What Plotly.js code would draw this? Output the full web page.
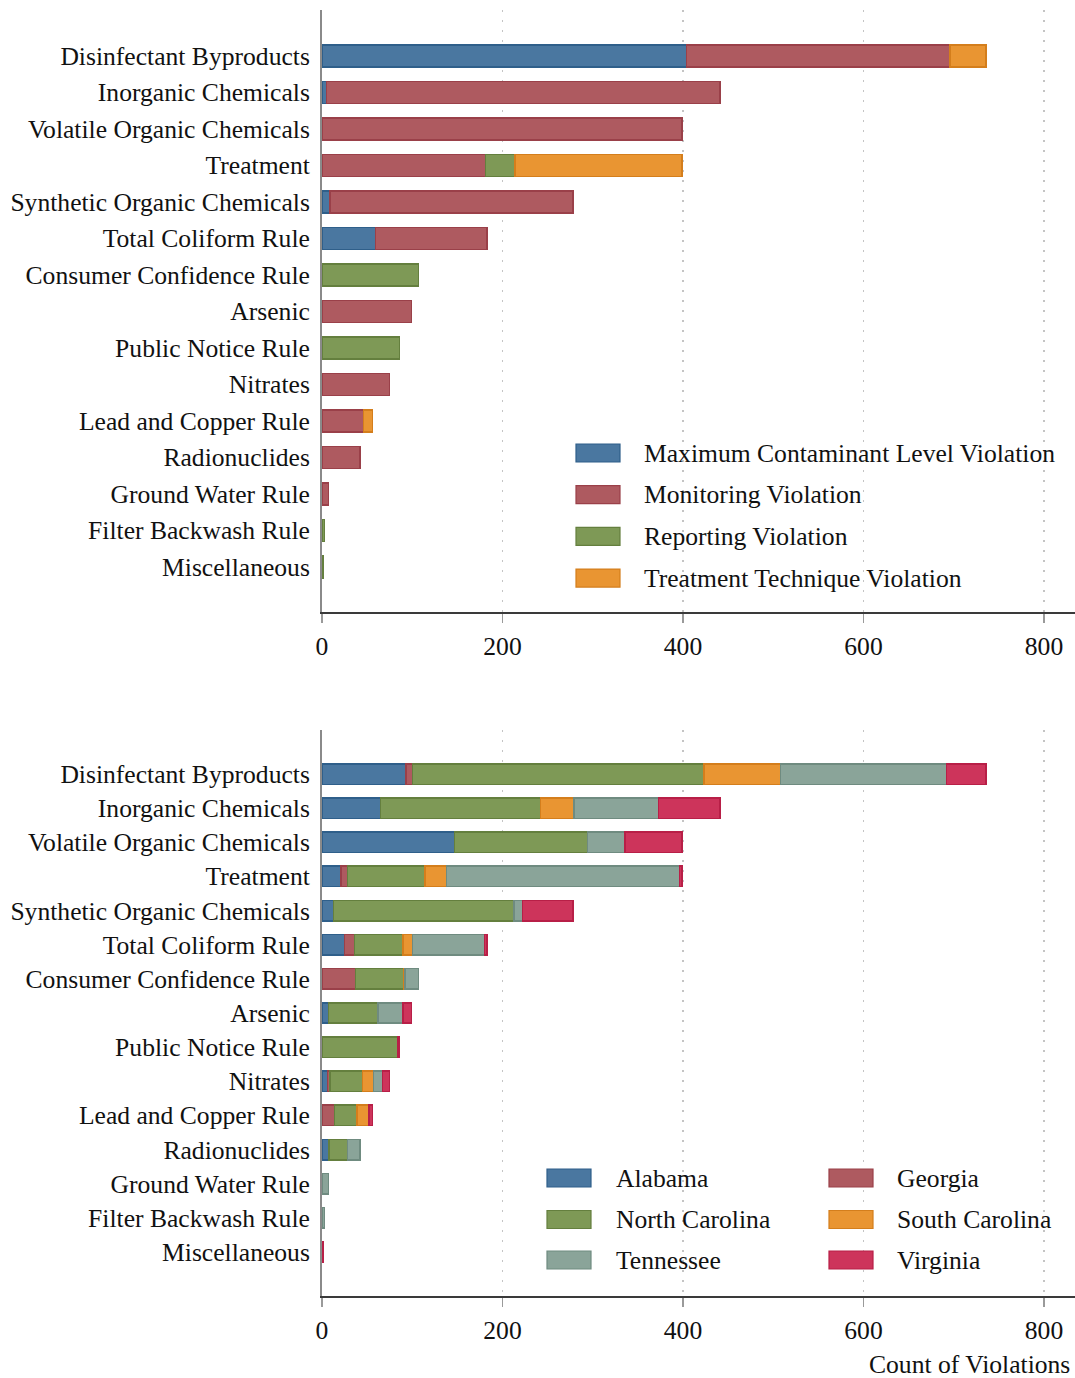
<!DOCTYPE html>
<html>
<head>
<meta charset="utf-8">
<script src="https://cdn.plot.ly/plotly-3.0.1.min.js"></script>
<style>
html,body{margin:0;padding:0;background:#fff;}
#chart{width:1075px;height:1378px;}
</style>
</head>
<body>
<div id="chart"></div>
<script>
// ---------- DATA ----------
const categories = [
  "Disinfectant Byproducts", "Inorganic Chemicals", "Volatile Organic Chemicals",
  "Treatment", "Synthetic Organic Chemicals", "Total Coliform Rule",
  "Consumer Confidence Rule", "Arsenic", "Public Notice Rule", "Nitrates",
  "Lead and Copper Rule", "Radionuclides", "Ground Water Rule",
  "Filter Backwash Rule", "Miscellaneous"
];

// Top panel: violation type
const typeNames = [
  "Maximum Contaminant Level Violation", "Monitoring Violation",
  "Reporting Violation", "Treatment Technique Violation"
];
const mclViolation       = [404,   5,   0,   0,   9,  59,   0,  0,  0,  0,  0,  0, 0, 0, 0];
const monitoringViolation= [292, 436, 399, 181, 269, 124,   0, 99,  0, 75, 46, 42, 7, 0, 0];
const reportingViolation = [  0,   0,   0,  33,   0,   0, 107,  0, 86,  0,  0,  0, 0, 3, 1];
const treatmentViolation = [ 40,   0,   0, 185,   0,   0,   0,  0,  0,  0, 10,  0, 0, 0, 0];

// Bottom panel: state
const stateNames = ["Alabama", "Georgia", "North Carolina", "South Carolina", "Tennessee", "Virginia"];
const alabama       = [ 93,  65, 147,  21,  13, 25,  0,  7,  0,  6,  0,  8, 0, 0, 0];
const georgia       = [  7,   0,   0,   7,   0, 11, 37,  0,  0,  3, 14,  0, 0, 0, 0];
const northCarolina = [323, 177, 147,  86, 200, 54, 54, 55, 84, 36, 25, 20, 0, 0, 0];
const southCarolina = [ 85,  37,   0,  24,   0, 10,  1,  0,  0, 12, 13,  0, 0, 0, 0];
const tennessee     = [184,  94,  42, 258,   9, 80, 15, 28,  0, 10,  0, 14, 7, 3, 0];
const virginia      = [ 44,  68,  63,   3,  56,  3,  0,  9,  2,  8,  4,  0, 0, 0, 1];

const xTickVals = [0, 200, 400, 600, 800];
const xTitle = "Count of Violations";

// ---------- STYLE ----------
const FONT = "Liberation Serif, Times New Roman, serif";
const FS = 25.6;
const fills = {
  blue:   "rgba(74,119,160,1)",
  red:    "rgba(174,90,96,1)",
  green:  "rgba(126,153,86,1)",
  orange: "rgba(233,149,50,1)",
  teal:   "rgba(138,164,153,1)",
  crimson:"rgba(205,52,91,1)"
};
const lines = {
  blue:"#2f5f8a", red:"#9a4049", green:"#647f3e", orange:"#d47e1c", teal:"#6f8b80", crimson:"#b81f47"
};
const typeColors  = ["blue", "red", "green", "orange"];
const stateColors = ["blue", "red", "green", "orange", "teal", "crimson"];

const typeSeries  = [mclViolation, monitoringViolation, reportingViolation, treatmentViolation];
const stateSeries = [alabama, georgia, northCarolina, southCarolina, tennessee, virginia];

// zero-length segments are skipped so they draw no outline
const nz = vals => vals.map(v => (v === 0 ? null : v));

const traces = [];
typeSeries.forEach((vals, i) => {
  traces.push({
    type: "bar", orientation: "h", name: typeNames[i],
    x: nz(vals), y: categories, xaxis: "x", yaxis: "y",
    marker: {color: fills[typeColors[i]], line: {color: lines[typeColors[i]], width: 1.5}},
    showlegend: false, hoverinfo: "x+y+name"
  });
});
stateSeries.forEach((vals, i) => {
  traces.push({
    type: "bar", orientation: "h", name: stateNames[i],
    x: nz(vals), y: categories, xaxis: "x2", yaxis: "y2",
    marker: {color: fills[stateColors[i]], line: {color: lines[stateColors[i]], width: 1.5}},
    showlegend: false, hoverinfo: "x+y+name"
  });
});

// pixel -> paper helpers (margins are zero)
const W = 1075, H = 1378;
const px = p => p / W;
const py = p => 1 - p / H;

const xr = [0, (W - 322) / 0.9025];
const xAxisBase = {
  range: xr, domain: [px(322), 1], tickvals: xTickVals,
  ticks: "outside", ticklen: 9, tickwidth: 1.5, tickcolor: "#9a9a9a",
  ticklabelstandoff: 1,
  showline: true, linecolor: "#3a3a3a", linewidth: 2,
  showgrid: true, gridcolor: "#c4c4c4", gridwidth: 1.2, griddash: "2px,8px",
  zeroline: false, tickfont: {family: FONT, size: FS, color: "#111"},
  automargin: false, fixedrange: true
};
const yAxisBase = {
  type: "category", categoryorder: "array", categoryarray: categories,
  showline: true, linecolor: "#8a8a8a", linewidth: 2, ticks: "",
  showgrid: false, zeroline: false, ticklabelstandoff: 5,
  tickfont: {family: FONT, size: FS, color: "#111"}, automargin: false, fixedrange: true
};

const shapes = [];
const annotations = [];

// top legend
typeNames.forEach((nm, i) => {
  const yc = 453 + i * 41.7;
  const c = typeColors[i];
  shapes.push({type: "rect", xref: "paper", yref: "paper",
    x0: px(576), x1: px(620), y0: py(yc + 9), y1: py(yc - 9),
    fillcolor: fills[c], line: {color: lines[c], width: 1.2}});
  annotations.push({xref: "paper", yref: "paper", x: px(642), y: py(yc),
    xanchor: "left", yanchor: "middle", showarrow: false, text: nm,
    font: {family: FONT, size: FS, color: "#111"}});
});
// bottom legend (2 columns, row-major)
const colSw = [547, 829], colTx = [614, 895], rowY = [1178, 1219.5, 1260];
stateNames.forEach((nm, i) => {
  const r = Math.floor(i / 2), cI = i % 2;
  const c = stateColors[i];
  const yc = rowY[r];
  shapes.push({type: "rect", xref: "paper", yref: "paper",
    x0: px(colSw[cI]), x1: px(colSw[cI] + 44), y0: py(yc + 9), y1: py(yc - 9),
    fillcolor: fills[c], line: {color: lines[c], width: 1.2}});
  annotations.push({xref: "paper", yref: "paper", x: px(colTx[cI]), y: py(yc),
    xanchor: "left", yanchor: "middle", showarrow: false, text: nm,
    font: {family: FONT, size: FS, color: "#111"}});
});
annotations.push({xref: "paper", yref: "paper", x: px(1072), y: py(1364),
  xanchor: "right", yanchor: "middle", showarrow: false, text: xTitle,
  font: {family: FONT, size: FS, color: "#111"}});

const layout = {
  width: W, height: H,
  margin: {l: 0, r: 0, t: 0, b: 0},
  paper_bgcolor: "#fff", plot_bgcolor: "#fff",
  barmode: "stack", bargap: 0.4,
  showlegend: false,
  font: {family: FONT, size: FS, color: "#111"},
  xaxis: Object.assign({}, xAxisBase, {anchor: "y"}),
  yaxis: Object.assign({}, yAxisBase, {anchor: "x",
    domain: [py(612), py(10)], range: [14 + 45 / 36.5, -46 / 36.5]}),
  xaxis2: Object.assign({}, xAxisBase, {anchor: "y2"}),
  yaxis2: Object.assign({}, yAxisBase, {anchor: "x2",
    domain: [py(1296), py(730)], range: [14 + 44 / 34.14, -44 / 34.14]}),
  shapes: shapes,
  annotations: annotations
};

Plotly.newPlot("chart", traces, layout, {displayModeBar: false, staticPlot: true});
</script>
</body>
</html>
